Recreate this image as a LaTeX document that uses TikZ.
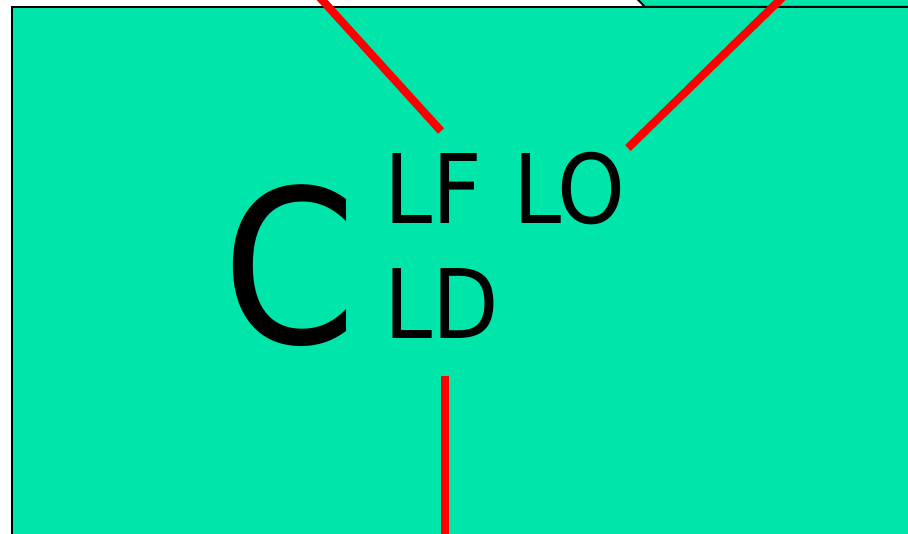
\documentclass[tikz,border=0pt]{standalone}
\usepackage{fontspec}
\setmainfont{DejaVu Sans Condensed}
\definecolor{boxgreen}{RGB}{0,229,170}
\begin{document}
\begin{tikzpicture}[x=1pt,y=-1pt]
\useasboundingbox (0,0) rectangle (908,534);
\draw[fill=boxgreen,line width=2pt] (627,-12)--(645,7)--(930,7)--(930,-12);
\draw[fill=boxgreen,line width=2pt] (12,7) rectangle (930,545);
\draw[red,line width=8pt] (313,-10)--(441,131);
\draw[red,line width=8pt] (790,-10)--(628,148);
\draw[red,line width=8pt] (445,376)--(445,545);
\node[anchor=base west,inner sep=0pt,font=\fontsize{214}{214}\selectfont] (c) at (222,344) {C};
\node[anchor=base west,inner sep=0pt,font=\fontsize{96}{96}\selectfont] (lf) at (384,224) {LF};
\node[anchor=base west,inner sep=0pt,font=\fontsize{96}{96}\selectfont] (lo) at (513,224) {LO};
\node[anchor=base west,inner sep=0pt,font=\fontsize{96}{96}\selectfont] (ld) at (384,339) {LD};
\end{tikzpicture}
\end{document}
